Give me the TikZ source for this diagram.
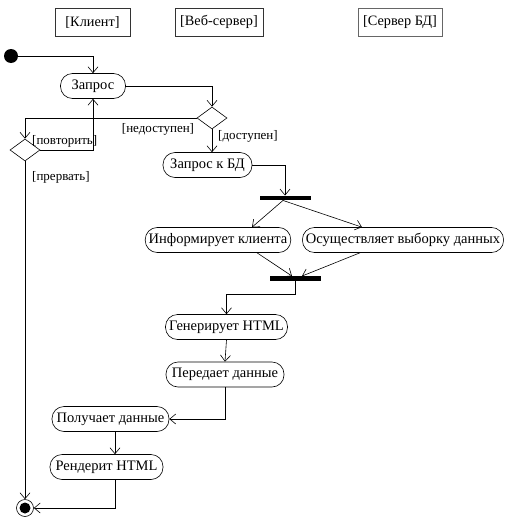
\documentclass[tikz,border=0pt]{standalone}
\usepackage{fontspec}
\setmainfont{Liberation Serif}
\usetikzlibrary{shapes.geometric,arrows.meta,calc}
\begin{document}
\begin{tikzpicture}[x=1pt,y=-1pt,
  lane/.style={draw=black!80, line width=0.6pt, minimum height=28pt, inner sep=0pt, font=\fontsize{14.3}{16}\selectfont},
  act/.style={draw, line width=0.6pt, rounded corners=12pt, minimum height=25pt, inner xsep=3.5pt, inner ysep=0pt, font=\fontsize{14.5}{16}\selectfont},
  dec/.style={draw, diamond, line width=0.6pt, minimum width=30pt, minimum height=22pt, inner sep=0pt, aspect=1.4},
  bar/.style={fill=black, minimum width=51pt, minimum height=4.5pt, inner sep=0pt},
  guard/.style={font=\fontsize{13}{14}\selectfont, inner sep=0pt},
  arr/.style={line width=0.6pt, -{Straight Barb[length=6pt,width=10pt]}},
  ln/.style={line width=0.6pt}]
\useasboundingbox (0,0) rectangle (513,522);

\node[lane, minimum width=75pt] (l1) at (92.5,22) {[Клиент]};
\node[lane, minimum width=88pt] (l2) at (219,22) {[Веб-сервер]};
\node[lane, minimum width=84pt, draw=black!60] (l3) at (400,22) {[Сервер БД]};

\node[circle, fill=black, minimum size=14pt, inner sep=0pt] (init) at (11,56) {};
\node[act, minimum width=65pt] (zap) at (93,86) {Запрос};
\node[dec] (d1) at (212,118) {};
\node[dec] (d2) at (25,150) {};
\node[act, minimum width=89pt] (zbd) at (207.5,165) {Запрос к БД};
\node[bar] (f1) at (285,198) {};
\node[act] (inf) at (218,240) {Информирует клиента};
\node[act] (osu) at (403,240) {Осуществляет выборку данных};
\node[bar] (j1) at (295,278.5) {};
\node[act, minimum width=122pt] (gen) at (226.5,327) {Генерирует HTML};
\node[act, minimum width=118pt] (per) at (225,374.5) {Передает данные};
\node[act, minimum width=117pt] (pol) at (110.5,419) {Получает данные};
\node[act, minimum width=113pt] (ren) at (106.5,467) {Рендерит HTML};
\node[circle, draw, line width=0.6pt, minimum size=17pt, inner sep=0pt] (fin) at (25,508) {};
\node[circle, fill=black, minimum size=11pt, inner sep=0pt] (fincore) at (fin.center) {};

\draw[arr] (init.east) -| (zap.north);
\draw[arr] (zap.east) -| (d1.north);
\draw[arr] (d1.west) -| (d2.north);
\node[guard] (g1) at (158,129) {[недоступен]};
\draw[arr] (d2.east) -| (zap.south);
\node[guard, anchor=west] (g2) at (32,141) {[повторить]};
\draw[arr] (d2.south) -- (fin.north);
\node[guard, anchor=west] (g3) at (32,177) {[прервать]};
\draw[arr] (d1.south) -- (d1.south |- zbd.north);
\node[guard, anchor=west] (g4) at (218,136) {[доступен]};
\draw[arr] (zbd.east) -| (f1.north);
\draw[arr] ([xshift=-2pt]f1.south) -- ([xshift=34pt]inf.north);
\draw[arr] ([xshift=-2pt]f1.south) -- ([xshift=-41pt]osu.north);
\draw[arr] ([xshift=39pt]inf.south) -- ([xshift=-3pt]j1.north);
\draw[arr] ([xshift=-43pt]osu.south) -- ([xshift=7pt]j1.north);
\draw[arr] (j1.south) -- ++(0,13) -| (gen.north);
\draw[arr] (gen.south) -- (per.north);
\draw[arr] (per.south) |- (pol.east);
\draw[arr] ([xshift=4.5pt]pol.south) -- ([xshift=8.5pt]ren.north);
\draw[arr] ([xshift=8.5pt]ren.south) |- (fin.east);
\end{tikzpicture}
\end{document}
